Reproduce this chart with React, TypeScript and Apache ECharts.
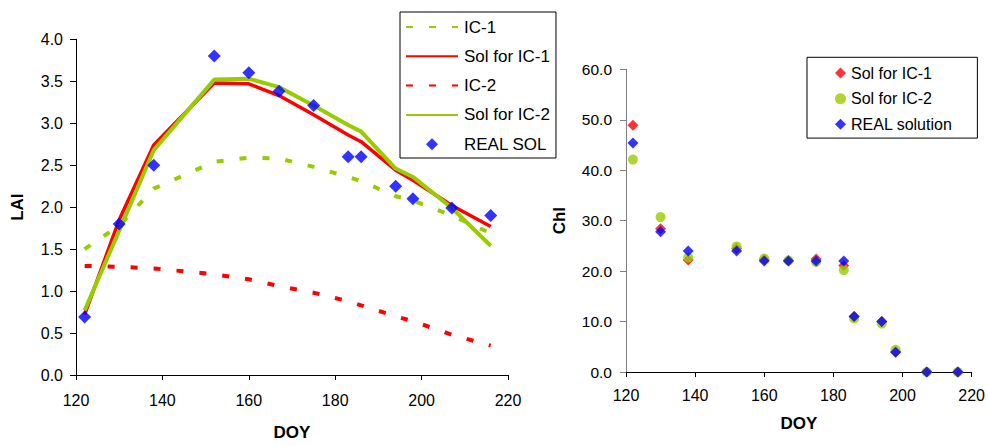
import React, { useEffect, useRef } from "react";
import * as echarts from "echarts";

const DOY = [122, 130, 138, 152, 160, 167, 175, 183, 186, 194, 198, 207, 216];
const IC1 = [1.5, 1.78, 2.22, 2.54, 2.59, 2.58, 2.48, 2.36, 2.31, 2.13, 2.08, 1.9, 1.69];
const SOL_IC1 = [0.72, 1.85, 2.74, 3.48, 3.47, 3.33, 3.1, 2.86, 2.78, 2.44, 2.32, 2.02, 1.77];
const IC2 = [1.3, 1.29, 1.27, 1.2, 1.14, 1.06, 0.98, 0.88, 0.83, 0.7, 0.64, 0.48, 0.35];
const SOL_IC2 = [0.77, 1.72, 2.68, 3.52, 3.53, 3.43, 3.21, 2.98, 2.9, 2.46, 2.36, 1.99, 1.54];
const REAL_LAI = [0.69, 1.8, 2.5, 3.8, 3.6, 3.38, 3.21, 2.6, 2.6, 2.25, 2.1, 1.99, 1.9];

const REAL_CHL = [45.4, 27.8, 24.0, 24.0, 22.0, 22.0, 22.0, 22.0, 11.0, 10.0, 3.9, 0, 0];
const SOL_IC1_CHL = [48.9, 28.4, 22.2, 24.5, 22.3, 22.1, 22.4, 21.1, 11.0, 10.0, 4.0, 0, 0];
const SOL_IC2_CHL = [42.1, 30.7, 22.7, 24.9, 22.5, 22.1, 21.8, 20.2, 10.6, 9.6, 4.4, 0, 0];

const LAI_TICKS = { min: 0, max: 4, interval: 0.5 };
const CHL_TICKS = { min: 0, max: 60, interval: 10 };
const DOY_TICKS = { min: 120, max: 220, interval: 20 };

const FONT = "'Liberation Sans', Arial, sans-serif";
const GREEN = "#99CC00";
const RED = "#FF0000";
const BLUE = "#0000FF";
const DIAMOND = "path://M5,0 L10,5 L5,10 L0,5 Z";

const pairs = (ys: number[]) => DOY.map((d, i) => [d, ys[i]]);

export default function App() {
  const ref = useRef<HTMLDivElement>(null);
  useEffect(() => {
    if (!ref.current) return;
    const chart = echarts.init(ref.current, undefined, { renderer: "svg" });
    const axisText = { color: "#000", fontFamily: FONT, fontSize: 16 };
    const nameText = { color: "#000", fontFamily: FONT, fontSize: 17, fontWeight: "bold" as const };
    const hidden = { opacity: 0 };
    chart.setOption({
      animation: false,
      backgroundColor: "#fff",
      textStyle: { fontFamily: FONT },
      grid: [
        { left: 76, right: 480, top: 39.3, bottom: 71 },
        { left: 626, right: 16.3, top: 69.3, bottom: 74 },
      ],
      xAxis: [
        {
          gridIndex: 0,
          type: "value",
          ...DOY_TICKS,
          name: "DOY",
          nameLocation: "middle",
          nameGap: 49,
          nameTextStyle: nameText,
          axisLine: { show: true, onZero: false, lineStyle: { color: "#000", width: 1 } },
          axisTick: { show: true, length: 5, lineStyle: { color: "#000" } },
          axisLabel: { ...axisText, margin: 17 },
          splitLine: { show: false },
        },
        {
          gridIndex: 1,
          type: "value",
          ...DOY_TICKS,
          name: "DOY",
          nameLocation: "middle",
          nameGap: 43,
          nameTextStyle: nameText,
          axisLine: { show: true, onZero: false, lineStyle: { color: "#000", width: 1 } },
          axisTick: { show: true, length: 5, lineStyle: { color: "#000" } },
          axisLabel: { ...axisText, margin: 15 },
          splitLine: { show: false },
        },
      ],
      yAxis: [
        {
          gridIndex: 0,
          type: "value",
          ...LAI_TICKS,
          name: "LAI",
          nameLocation: "middle",
          nameRotate: 90,
          nameGap: 50,
          nameTextStyle: nameText,
          axisLine: { show: true, onZero: false, lineStyle: { color: "#000", width: 1 } },
          axisTick: { show: true, length: 6, lineStyle: { color: "#000" } },
          axisLabel: { ...axisText, margin: 13, formatter: (v: number) => v.toFixed(1) },
          splitLine: { show: false },
        },
        {
          gridIndex: 1,
          type: "value",
          ...CHL_TICKS,
          name: "Chl",
          nameLocation: "middle",
          nameRotate: 90,
          nameGap: 58,
          nameTextStyle: nameText,
          axisLine: { show: true, onZero: false, lineStyle: { color: "#808080", width: 1 } },
          axisTick: { show: true, length: 6, lineStyle: { color: "#808080" } },
          axisLabel: { ...axisText, fontSize: 15.5, margin: 14, formatter: (v: number) => v.toFixed(1) },
          splitLine: { show: false },
        },
      ],
      legend: [
        {
          orient: "vertical",
          left: 400,
          top: 12,
          padding: [6.5, 6, 5.3, 5],
          itemWidth: 52,
          itemHeight: 12,
          itemGap: 12.3,
          symbolKeepAspect: true,
          itemStyle: { borderWidth: 0 },
          borderColor: "#000",
          borderWidth: 1,
          backgroundColor: "#fff",
          textStyle: { color: "#000", fontFamily: FONT, fontSize: 17, padding: [0, 0, 0, 1] },
          data: [
            { name: "IC-1", itemStyle: hidden },
            { name: "Sol for IC-1", itemStyle: hidden },
            { name: "IC-2", itemStyle: hidden },
            { name: "Sol for IC-2", itemStyle: hidden },
            { name: "REAL SOL", icon: DIAMOND },
          ],
        },
        {
          orient: "vertical",
          left: 807,
          top: 57.3,
          padding: [7.8, 25, 5.8, 28],
          itemWidth: 11,
          itemHeight: 11,
          itemGap: 9.6,
          symbolKeepAspect: true,
          itemStyle: { borderWidth: 0 },
          borderColor: "#000",
          borderWidth: 1,
          backgroundColor: "#fff",
          formatter: (n: string) => n.trim(),
          textStyle: { color: "#000", fontFamily: FONT, fontSize: 16 },
          data: [
            { name: "Sol for IC-1 ", icon: DIAMOND },
            { name: "Sol for IC-2 ", icon: "circle" },
            { name: "REAL solution", icon: DIAMOND },
          ],
        },
      ],
      series: [
        {
          name: "IC-1",
          type: "line",
          xAxisIndex: 0,
          yAxisIndex: 0,
          data: pairs(IC1),
          symbol: "none",
          color: GREEN,
          lineStyle: { color: GREEN, width: 4, type: [7, 16], cap: "butt" },
        },
        {
          name: "Sol for IC-1",
          type: "line",
          xAxisIndex: 0,
          yAxisIndex: 0,
          data: pairs(SOL_IC1),
          symbol: "none",
          color: RED,
          lineStyle: { color: RED, width: 3.5 },
        },
        {
          name: "IC-2",
          type: "line",
          xAxisIndex: 0,
          yAxisIndex: 0,
          data: pairs(IC2),
          symbol: "none",
          color: RED,
          lineStyle: { color: RED, width: 4, type: [7, 16], cap: "butt" },
        },
        {
          name: "Sol for IC-2",
          type: "line",
          xAxisIndex: 0,
          yAxisIndex: 0,
          data: pairs(SOL_IC2),
          symbol: "none",
          color: GREEN,
          lineStyle: { color: GREEN, width: 4 },
        },
        {
          name: "REAL SOL",
          type: "scatter",
          xAxisIndex: 0,
          yAxisIndex: 0,
          data: pairs(REAL_LAI),
          symbol: "diamond",
          symbolSize: 13,
          color: BLUE,
          itemStyle: { color: BLUE },
          z: 5,
        },
        {
          name: "Sol for IC-1 ",
          type: "scatter",
          xAxisIndex: 1,
          yAxisIndex: 1,
          data: pairs(SOL_IC1_CHL),
          symbol: "diamond",
          symbolSize: 11,
          color: RED,
          itemStyle: { color: RED },
        },
        {
          name: "Sol for IC-2 ",
          type: "scatter",
          xAxisIndex: 1,
          yAxisIndex: 1,
          data: pairs(SOL_IC2_CHL),
          symbol: "circle",
          symbolSize: 10,
          color: GREEN,
          itemStyle: { color: GREEN },
        },
        {
          name: "REAL solution",
          type: "scatter",
          xAxisIndex: 1,
          yAxisIndex: 1,
          data: pairs(REAL_CHL),
          symbol: "diamond",
          symbolSize: 11,
          color: BLUE,
          itemStyle: { color: BLUE },
        },
      ],
    });
    return () => chart.dispose();
  }, []);
  return (
    <div
      ref={ref}
      style={{ position: "fixed", left: 0, top: 0, width: 988, height: 446, background: "#fff" }}
    />
  );
}
